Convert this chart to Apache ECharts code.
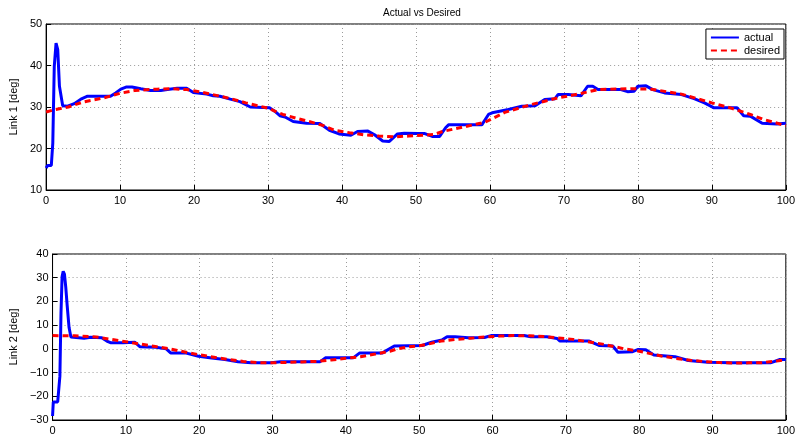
<!DOCTYPE html>
<html>
<head>
<meta charset="utf-8">
<script src="https://cdn.jsdelivr.net/npm/echarts@6/dist/echarts.min.js"></script>
<style>
  html, body { margin: 0; padding: 0; background: #fff; }
  #chart { width: 798px; height: 439px; }
</style>
</head>
<body>
<div id="chart"></div>
<script>
// Link 1, actual response
var link1ActualX = [0, 0.2, 0.7, 0.9, 1.1, 1.34, 1.57, 1.8, 2.24, 2.9, 3.8, 4.7, 5.6, 6.5, 8.7, 9.4, 10.1, 10.8, 11.6, 12.8, 14.1, 15.5, 16.4, 17.7, 19.0, 19.9, 21.7, 22.6, 23.5, 24.9, 26.2, 27.6, 30.2, 30.9, 31.6, 32.3, 33.4, 35.2, 37.0, 38.3, 39.6, 41.2, 42.1, 43.5, 44.4, 45.5, 46.4, 47.5, 48.4, 50.4, 51.2, 52.2, 53.2, 54.0, 54.4, 58.9, 59.8, 60.3, 62.5, 64.3, 66.1, 67.4, 68.8, 69.2, 70.6, 72.3, 73.2, 73.9, 74.6, 77.7, 78.6, 79.5, 80.0, 81.1, 82.0, 83.6, 85.9, 87.6, 89.0, 90.3, 93.4, 94.3, 95.2, 96.8, 98.8, 100];
var link1ActualY = [15.3, 15.9, 15.9, 21.3, 39.8, 45.4, 43.8, 35.0, 30.3, 30.2, 30.8, 31.9, 32.6, 32.6, 32.6, 33.4, 34.3, 34.8, 34.8, 34.4, 34.0, 34.0, 34.2, 34.5, 34.5, 33.5, 33.1, 32.7, 32.6, 31.9, 31.3, 30.0, 29.8, 29.0, 27.9, 27.6, 26.5, 26.1, 26.0, 24.4, 23.5, 23.2, 24.1, 24.2, 23.3, 21.8, 21.7, 23.5, 23.7, 23.6, 23.6, 22.9, 22.9, 25.0, 25.7, 25.7, 28.2, 28.6, 29.4, 30.2, 30.3, 31.8, 32.0, 33.0, 33.0, 32.7, 35.0, 35.0, 34.2, 34.2, 33.7, 33.8, 35.0, 35.1, 34.2, 33.4, 33.0, 32.0, 31.0, 29.8, 29.8, 27.9, 27.8, 26.1, 25.9, 26.1];

// Link 1, desired trajectory
var link1DesiredX = [0, 1, 3, 5, 8, 10, 12, 15, 17, 19, 21, 23, 25, 27, 30, 32, 34, 36, 37.5, 39, 41, 43, 45, 47, 49, 51, 52.5, 53.6, 56.7, 59.3, 62, 65.6, 69.2, 71.9, 74.6, 79, 81.8, 85.9, 90, 92.5, 95.2, 97, 100];
var link1DesiredY = [28.8, 29.3, 30.0, 31.2, 32.3, 33.3, 34.0, 34.3, 34.4, 34.2, 33.6, 32.8, 32.0, 31.0, 29.7, 28.2, 27.2, 26.3, 25.5, 24.4, 23.8, 23.3, 23.0, 22.8, 23.0, 23.2, 23.4, 24.1, 25.3, 26.3, 28.7, 30.6, 32.2, 33.1, 34.2, 34.4, 34.3, 33.1, 31.0, 29.8, 28.2, 27.0, 25.5];

// Link 2, actual response
var link2ActualX = [0, 0.1, 0.7, 1.0, 1.15, 1.3, 1.45, 1.62, 1.8, 2.0, 2.25, 2.5, 2.7, 4.3, 5.2, 6.7, 7.4, 7.9, 9.6, 11.2, 11.9, 14.1, 15.5, 16.1, 18.1, 19.0, 19.9, 21.7, 23.5, 25.3, 27.1, 29.8, 31.1, 34.3, 36.5, 37.2, 41.0, 41.9, 45.0, 46.6, 50.4, 51.7, 53.1, 53.8, 54.9, 56.7, 58.9, 59.8, 64.3, 65.2, 67.4, 68.8, 69.2, 73.2, 74.6, 76.4, 77.1, 79.1, 79.8, 80.9, 82.0, 84.9, 86.7, 89.4, 92.5, 97.9, 99.2, 100];
var link2ActualY = [-28.3, -22.4, -22.4, -11.5, 15.0, 30.5, 32.7, 31.5, 26.0, 18.0, 9.0, 5.0, 4.5, 4.5, 4.9, 4.7, 3.3, 2.6, 2.6, 2.8, 0.9, 0.7, 0.0, -1.7, -1.7, -2.4, -3.1, -3.9, -4.5, -5.4, -5.9, -5.9, -5.4, -5.4, -5.4, -3.8, -3.8, -1.7, -1.7, 1.2, 1.4, 2.8, 3.7, 5.1, 5.1, 4.7, 4.8, 5.6, 5.6, 5.1, 5.1, 4.4, 3.3, 3.3, 1.4, 1.2, -1.4, -1.2, -0.3, -0.4, -2.6, -3.3, -4.9, -5.6, -5.9, -5.9, -4.5, -4.5];

// Link 2, desired trajectory
var link2DesiredX = [0, 3, 6, 8, 10, 12, 14, 16, 17.5, 20, 22, 24, 26, 28, 30, 32, 34, 36, 38, 40, 42, 44, 46, 47, 48.5, 50, 51.5, 53, 55, 57, 59, 61, 63, 65, 67, 69, 71, 73, 75, 76.5, 78, 80, 81.5, 83, 85, 87, 89, 91, 93, 95, 97, 99, 100];
var link2DesiredY = [5.6, 5.5, 5.0, 4.0, 3.0, 2.0, 1.0, 0.0, -1.0, -2.5, -3.5, -4.5, -5.3, -5.8, -5.9, -5.7, -5.5, -5.3, -4.7, -4.0, -3.3, -2.2, -1.0, 0.0, 0.8, 1.3, 2.2, 3.3, 4.0, 4.5, 5.0, 5.4, 5.6, 5.5, 5.2, 4.6, 4.0, 3.0, 2.0, 1.0, 0.0, -1.0, -2.0, -3.0, -4.0, -4.8, -5.4, -5.8, -6.0, -5.9, -5.8, -5.0, -4.5];

var seriesNames = ['actual', 'desired'];

function pairs(xs, ys) {
	var out = [];
	for (var i = 0; i < xs.length; i++) out.push([xs[i], ys[i]]);
	return out;
}

var font = 'Liberation Sans, Arial, Helvetica, sans-serif';
var dotted = { show: true, lineStyle: { color: '#9a9a9a', type: [1, 3], width: 1 } };
var minus = function (v) { return String(v).replace('-', '\u2212'); };

function xAxisOf(idx) {
	return {
		type: 'value', gridIndex: idx, min: 0, max: 100, interval: 10,
		axisLine: { show: true, onZero: false, lineStyle: { color: '#000', width: 1 } },
		axisTick: { show: true, inside: true, length: 5, lineStyle: { color: '#000' } },
		axisLabel: { color: '#000', fontSize: 11, fontFamily: font, margin: 5 },
		splitLine: dotted
	};
}

function yAxisOf(idx, min, max, name) {
	return {
		type: 'value', gridIndex: idx, min: min, max: max, interval: 10,
		name: name, nameLocation: 'middle', nameGap: 27, nameRotate: 90,
		nameTextStyle: { color: '#000', fontSize: 11, fontFamily: font },
		axisLine: { show: true, onZero: false, lineStyle: { color: '#000', width: 1 } },
		axisTick: { show: true, inside: true, length: 5, lineStyle: { color: '#000' } },
		axisLabel: { color: '#000', fontSize: 11, fontFamily: font, margin: 4, formatter: minus },
		splitLine: dotted
	};
}

function lineSeries(name, xi, xs, ys, color, dash) {
	return {
		name: name, type: 'line', xAxisIndex: xi, yAxisIndex: xi,
		symbol: 'none', showSymbol: false,
		data: pairs(xs, ys),
		lineStyle: { color: color, width: 3, type: dash ? [6, 4] : 'solid' },
		itemStyle: { color: color }
	};
}

var chart = echarts.init(document.getElementById('chart'));
chart.setOption({
	animation: false,
	backgroundColor: '#fff',
	title: {
		text: 'Actual vs Desired', left: 417, top: 3, textAlign: 'center',
		textStyle: { fontSize: 10, fontWeight: 'normal', color: '#000', fontFamily: font }
	},
	legend: {
		show: true,
		data: seriesNames, orient: 'vertical', right: 14, top: 29,
		backgroundColor: '#fff', borderColor: '#000', borderWidth: 1,
		padding: [3, 4, 3, 4], itemGap: 2, itemWidth: 28, itemHeight: 10,
		itemStyle: { opacity: 0 },
		textStyle: { fontSize: 11, color: '#000', fontFamily: font }
	},
	grid: [
		{ left: 45, top: 24, width: 744, height: 166, show: true, borderColor: '#000', borderWidth: 1, backgroundColor: 'transparent' },
		{ left: 45, top: 254, width: 744, height: 166, show: true, borderColor: '#000', borderWidth: 1, backgroundColor: 'transparent' }
	],
	xAxis: [xAxisOf(0), xAxisOf(1)],
	yAxis: [yAxisOf(0, 10, 50, 'Link 1 [deg]'), yAxisOf(1, -30, 40, 'Link 2 [deg]')],
	series: [
		lineSeries('actual', 0, link1ActualX, link1ActualY, '#0000ff', false),
		lineSeries('desired', 0, link1DesiredX, link1DesiredY, '#ff0000', true),
		lineSeries('actual', 1, link2ActualX, link2ActualY, '#0000ff', false),
		lineSeries('desired', 1, link2DesiredX, link2DesiredY, '#ff0000', true)
	]
});
</script>
</body>
</html>
